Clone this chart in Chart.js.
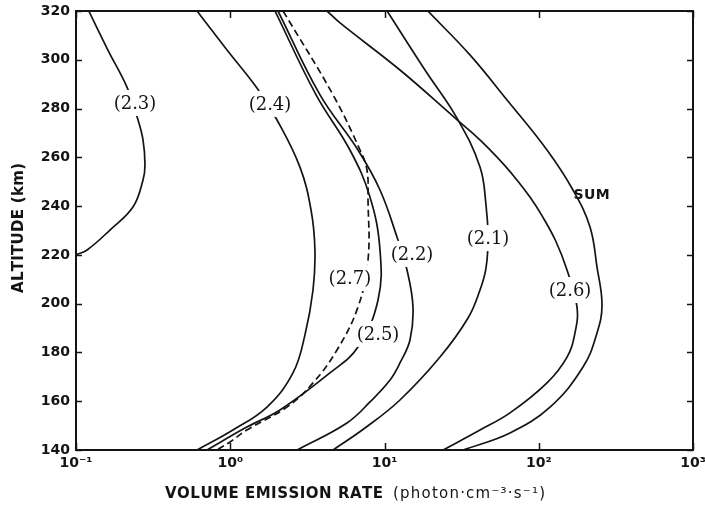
<!DOCTYPE html>
<html>
<head>
<meta charset="utf-8">
<script src="https://cdn.jsdelivr.net/npm/chart.js@4.4.0/dist/chart.umd.min.js"></script>
<style>
html, body { margin: 0; padding: 0; background: #fff; }
</style>
</head>
<body>
<canvas id="grafico" width="705" height="506"></canvas>
<script>
// axis ticks
const altTicks = [140, 160, 180, 200, 220, 240, 260, 280, 300, 320];
const rateTicks = [0.1, 1, 10, 100, 1000];
const rateTickLabels = ['10⁻¹', '10⁰', '10¹', '10²', '10³'];

// curves: altitude (km) and volume emission rate (photon cm-3 s-1)
const alt21 = [320, 295.8, 276.1, 256.0, 240.5, 226.9, 214.6, 205.6, 194.1, 178.1, 160.5, 149.0, 140];
const rate21 = [10.4, 18.3, 29.5, 41.6, 45.5, 46.9, 45.5, 41.6, 34.8, 22.9, 12.6, 7.47, 4.64];

const alt22 = [320, 285.6, 263.0, 246.6, 227.3, 213.8, 198.6, 185.1, 175.7, 168.7, 159.7, 151.1, 140];
const rate22 = [2.04, 3.82, 6.73, 9.35, 12.05, 13.99, 15.3, 14.63, 12.6, 10.86, 8.05, 5.71, 2.71];

const alt23 = [320, 304.0, 288.8, 276.5, 267.1, 256.9, 250.7, 239.6, 230.2, 222.0, 220];
const rate23 = [0.121, 0.161, 0.214, 0.249, 0.272, 0.280, 0.272, 0.234, 0.166, 0.118, 0.1];

const alt24 = [320, 304.0, 288.4, 275.3, 256.0, 238.4, 222.0, 205.6, 187.2, 171.6, 157.6, 148.2, 140];
const rate24 = [0.609, 0.953, 1.49, 2.01, 2.83, 3.34, 3.54, 3.44, 3.05, 2.55, 1.73, 1.04, 0.609];

const alt25 = [320, 285.6, 263.0, 243.7, 222.0, 201.5, 182.2, 171.6, 156.4, 149.4, 140];
const rate25 = [1.95, 3.60, 5.97, 8.05, 9.35, 9.08, 6.73, 4.43, 2.10, 1.28, 0.707];

const alt26 = [320, 315.1, 295.8, 276.1, 269.8, 263.4, 256.8, 250.1, 243.3, 236.4, 225.9, 213.8, 198.6, 188.0, 178.1, 167.5, 155.2, 148.2, 140];
const rate26 = [4.24, 5.15, 12.6, 28.7, 37.4, 47.8, 59.9, 73.5, 88.6, 104.2, 128.4, 152.5, 177, 171.8, 152.5, 113.1, 65.1, 41.6, 24.0];

const alt27 = [320, 285.6, 263.0, 254.8, 242.5, 217.9, 198.6, 181.0, 167.5, 157.6, 148.2, 143.3, 140];
const rate27 = [2.20, 4.64, 6.94, 7.70, 7.82, 7.82, 6.73, 4.92, 3.44, 2.33, 1.28, 0.996, 0.82];

const altSum = [320, 302.0, 283.5, 263.0, 246.6, 231.4, 215.0, 199.5, 188.0, 174.0, 157.6, 147.0, 140];
const rateSum = [19.1, 35.8, 62.3, 113.1, 166.7, 214.9, 238.6, 257.1, 238.6, 193.6, 118.3, 65.1, 32.3];

// curve labels (placed in data units)
const curveLabels = ['(2.1)', '(2.2)', '(2.3)', '(2.4)', '(2.5)', '(2.6)', '(2.7)', 'SUM'];
const labelRates = [46.9, 15.08, 0.2413, 1.81, 9.08, 159.5, 5.97, 220];
const labelAlts = [226.9, 220.4, 282.3, 281.9, 187.6, 205.6, 210.5, 244.6];

const ink = '#141414';

function pontos(rates, alts) {
    return rates.map((r, i) => ({ x: r, y: alts[i] }));
}

const curvas = [
    { rates: rate21, alts: alt21, dash: [] },
    { rates: rate22, alts: alt22, dash: [] },
    { rates: rate23, alts: alt23, dash: [] },
    { rates: rate24, alts: alt24, dash: [] },
    { rates: rate25, alts: alt25, dash: [] },
    { rates: rate26, alts: alt26, dash: [] },
    { rates: rate27, alts: alt27, dash: [7, 4] },
    { rates: rateSum, alts: altSum, dash: [] }
];

// draws text spread out to a given width
function drawSpaced(ctx, text, x, y, width) {
    const chars = [...text];
    const natural = chars.reduce((s, c) => s + ctx.measureText(c).width, 0);
    const gap = chars.length > 1 ? (width - natural) / (chars.length - 1) : 0;
    let cx = x;
    chars.forEach(c => {
        ctx.fillText(c, cx, y);
        cx += ctx.measureText(c).width + gap;
    });
}

const moldura = {
    id: 'moldura',
    afterDatasetsDraw(chart) {
        const ctx = chart.ctx;
        const xs = chart.scales.x, ys = chart.scales.y;
        ctx.save();
        // curve labels with a white patch behind them
        curveLabels.forEach((t, i) => {
            const px = xs.getPixelForValue(labelRates[i]);
            const py = ys.getPixelForValue(labelAlts[i]);
            if (t === 'SUM') {
                ctx.font = 'bold 14px "DejaVu Sans"';
                ctx.fillStyle = ink;
                ctx.textBaseline = 'middle';
                ctx.textAlign = 'left';
                drawSpaced(ctx, t, px - 18, py, 36);
                return;
            }
            ctx.font = '18px "DejaVu Serif"';
            const w = ctx.measureText(t).width;
            ctx.fillStyle = '#fff';
            ctx.fillRect(px - w / 2 - 1, py - 13, w + 2, 26);
            ctx.fillStyle = ink;
            ctx.textAlign = 'center';
            ctx.textBaseline = 'middle';
            ctx.fillText(t, px, py + 1);
        });
        ctx.restore();
    },
    afterDraw(chart) {
        const ctx = chart.ctx;
        const a = chart.chartArea;
        const xs = chart.scales.x, ys = chart.scales.y;
        ctx.save();
        ctx.strokeStyle = ink;
        ctx.lineWidth = 1.5;
        ctx.beginPath();
        altTicks.forEach(v => {
            const py = Math.round(ys.getPixelForValue(v)) + 0.5;
            ctx.moveTo(a.left, py); ctx.lineTo(a.left + 6, py);
            ctx.moveTo(a.right, py); ctx.lineTo(a.right - 6, py);
        });
        rateTicks.forEach(v => {
            const px = Math.round(xs.getPixelForValue(v)) + 0.5;
            ctx.moveTo(px, a.bottom); ctx.lineTo(px, a.bottom - 7);
            ctx.moveTo(px, a.top); ctx.lineTo(px, a.top + 7);
        });
        ctx.stroke();
        ctx.lineWidth = 2;
        ctx.strokeRect(a.left, a.top, a.right - a.left, a.bottom - a.top);

        // axis titles
        ctx.fillStyle = ink;
        ctx.textAlign = 'left';
        ctx.textBaseline = 'alphabetic';
        ctx.font = 'bold 15px "DejaVu Sans"';
        drawSpaced(ctx, 'VOLUME EMISSION RATE', 165, 498, 218);
        ctx.font = '15px "DejaVu Sans"';
        drawSpaced(ctx, '(photon·cm⁻³·s⁻¹)', 393, 498, 152);

        ctx.translate(19, 293);
        ctx.rotate(-Math.PI / 2);
        ctx.textBaseline = 'middle';
        ctx.font = 'bold 15px "DejaVu Sans"';
        drawSpaced(ctx, 'ALTITUDE (km)', 0, 0, 130);
        ctx.restore();
    }
};

const ctx = document.getElementById('grafico');

new Chart(ctx, {
    type: 'scatter',
    data: {
        datasets: curvas.map(c => ({
            data: pontos(c.rates, c.alts),
            showLine: true,
            borderColor: ink,
            borderWidth: 1.7,
            borderDash: c.dash,
            pointRadius: 0,
            tension: 0.4,
            fill: false
        }))
    },
    options: {
        responsive: false,
        animation: false,
        layout: { padding: { top: 11, right: 12, left: 0, bottom: 0 } },
        plugins: {
            legend: { display: false },
            tooltip: { enabled: false }
        },
        scales: {
            x: {
                type: 'logarithmic',
                min: 0.1,
                max: 1000,
                afterBuildTicks: s => { s.ticks = rateTicks.map(v => ({ value: v })); },
                afterFit: s => { s.height = 56; s.paddingLeft = 0; s.paddingRight = 0; },
                grid: { display: false, drawTicks: false },
                border: { display: false },
                ticks: {
                    autoSkip: false,
                    maxRotation: 0,
                    padding: 5,
                    color: ink,
                    font: { family: 'DejaVu Sans', size: 14, weight: 'bold' },
                    callback: v => rateTickLabels[rateTicks.indexOf(v)]
                }
            },
            y: {
                type: 'linear',
                min: 140,
                max: 320,
                afterBuildTicks: s => { s.ticks = altTicks.map(v => ({ value: v })); },
                afterFit: s => { s.width = 76; s.paddingTop = 0; s.paddingBottom = 0; },
                grid: { display: false, drawTicks: false },
                border: { display: false },
                ticks: {
                    padding: 6,
                    color: ink,
                    font: { family: 'DejaVu Sans', size: 14, weight: 'bold' }
                }
            }
        }
    },
    plugins: [moldura]
});
</script>
</body>
</html>
